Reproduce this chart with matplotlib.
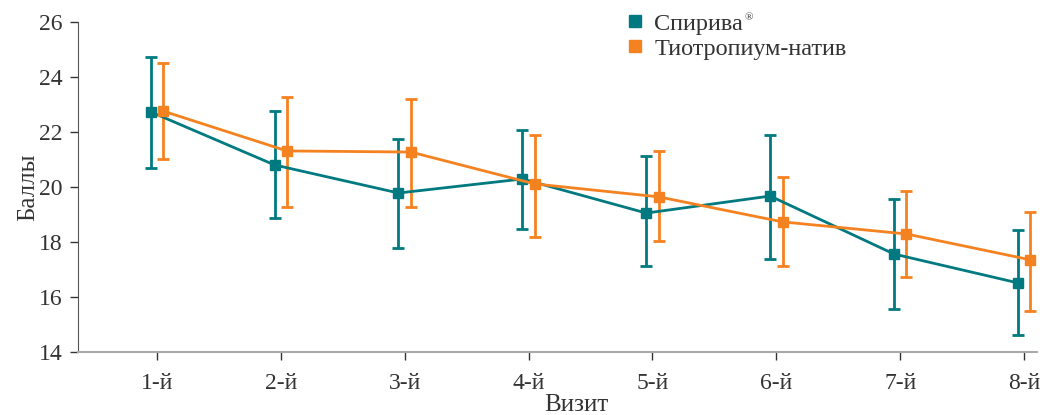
import matplotlib
matplotlib.use("Agg")
import matplotlib.pyplot as plt
import numpy as np
from matplotlib.lines import Line2D

categories = ["1-й", "2-й", "3-й", "4-й", "5-й", "6-й", "7-й", "8-й"]
spiriva = [22.73, 20.80, 19.78, 20.29, 19.05, 19.67, 17.56, 16.51]
spiriva_low = [20.69, 18.87, 17.78, 18.47, 17.13, 17.38, 15.56, 14.62]
spiriva_high = [24.73, 22.76, 21.75, 22.07, 21.13, 21.89, 19.56, 18.44]
tio = [22.76, 21.31, 21.27, 20.11, 19.64, 18.73, 18.29, 17.35]
tio_low = [21.02, 19.27, 19.27, 18.18, 18.04, 17.13, 16.73, 15.49]
tio_high = [24.51, 23.27, 23.20, 21.89, 21.31, 20.36, 19.85, 19.09]
yticks = [14, 16, 18, 20, 22, 24, 26]

teal = "#007A80"
orange = "#F58220"
plt.rcParams['font.family'] = ['Liberation Serif', 'DejaVu Serif']

fig = plt.figure(figsize=(10.54, 4.15), dpi=100)
ax = fig.add_axes([0.074, 0.152, 0.910, 0.795])

x = np.arange(1, len(categories) + 1)
off = 0.05
s = np.array(spiriva); t = np.array(tio)
ax.errorbar(x - off, s, yerr=[s - np.array(spiriva_low), np.array(spiriva_high) - s],
            color=teal, marker='s', markersize=7, linewidth=2, elinewidth=2,
            capsize=4, capthick=2, zorder=3)
ax.errorbar(x + off, t, yerr=[t - np.array(tio_low), np.array(tio_high) - t],
            color=orange, marker='s', markersize=7, linewidth=2, elinewidth=2,
            capsize=4, capthick=2, zorder=3)

ax.set_xlim(0.363, 8.105)
ax.set_ylim(14, 26)
ax.set_yticks(yticks)
ax.set_xticks(x)
ax.set_xticklabels(categories)
ax.tick_params(axis='both', labelsize=17, colors='#333333', length=6, width=1)
ax.tick_params(axis='x', pad=9)
ax.tick_params(axis='y', pad=5)
ax.spines['top'].set_visible(False)
ax.spines['right'].set_visible(False)
ax.spines['left'].set_color('#555555')
ax.spines['bottom'].set_color('#aaaaaa')
ax.spines['bottom'].set_linewidth(1.5)
ax.set_ylabel("Баллы", fontsize=18, color='#333333', labelpad=0)
ax.set_xlabel("Визит", fontsize=18, color='#333333', labelpad=0)
ax.xaxis.set_label_coords(0.52, -0.128)

handles = [Line2D([], [], marker='s', color=teal, linestyle='none', markersize=9),
           Line2D([], [], marker='s', color=orange, linestyle='none', markersize=9)]
leg = ax.legend(handles, ["Спирива", "Тиотропиум-натив"], loc='upper left',
                bbox_to_anchor=(0.563, 1.058), frameon=False, fontsize=17.5,
                handlelength=0.6, handletextpad=0.5, labelspacing=0.12, borderaxespad=0)
for txt in leg.get_texts():
    txt.set_color('#333333')

fig.canvas.draw()
r = fig.canvas.get_renderer()
bb = leg.get_texts()[0].get_window_extent(r)
fig.text((bb.x1 + 1) / fig.bbox.width, (bb.y1 - 9) / fig.bbox.height, "®",
         fontsize=8, color='#333333', ha='left', va='bottom')

fig.savefig("out.png", dpi=100)
